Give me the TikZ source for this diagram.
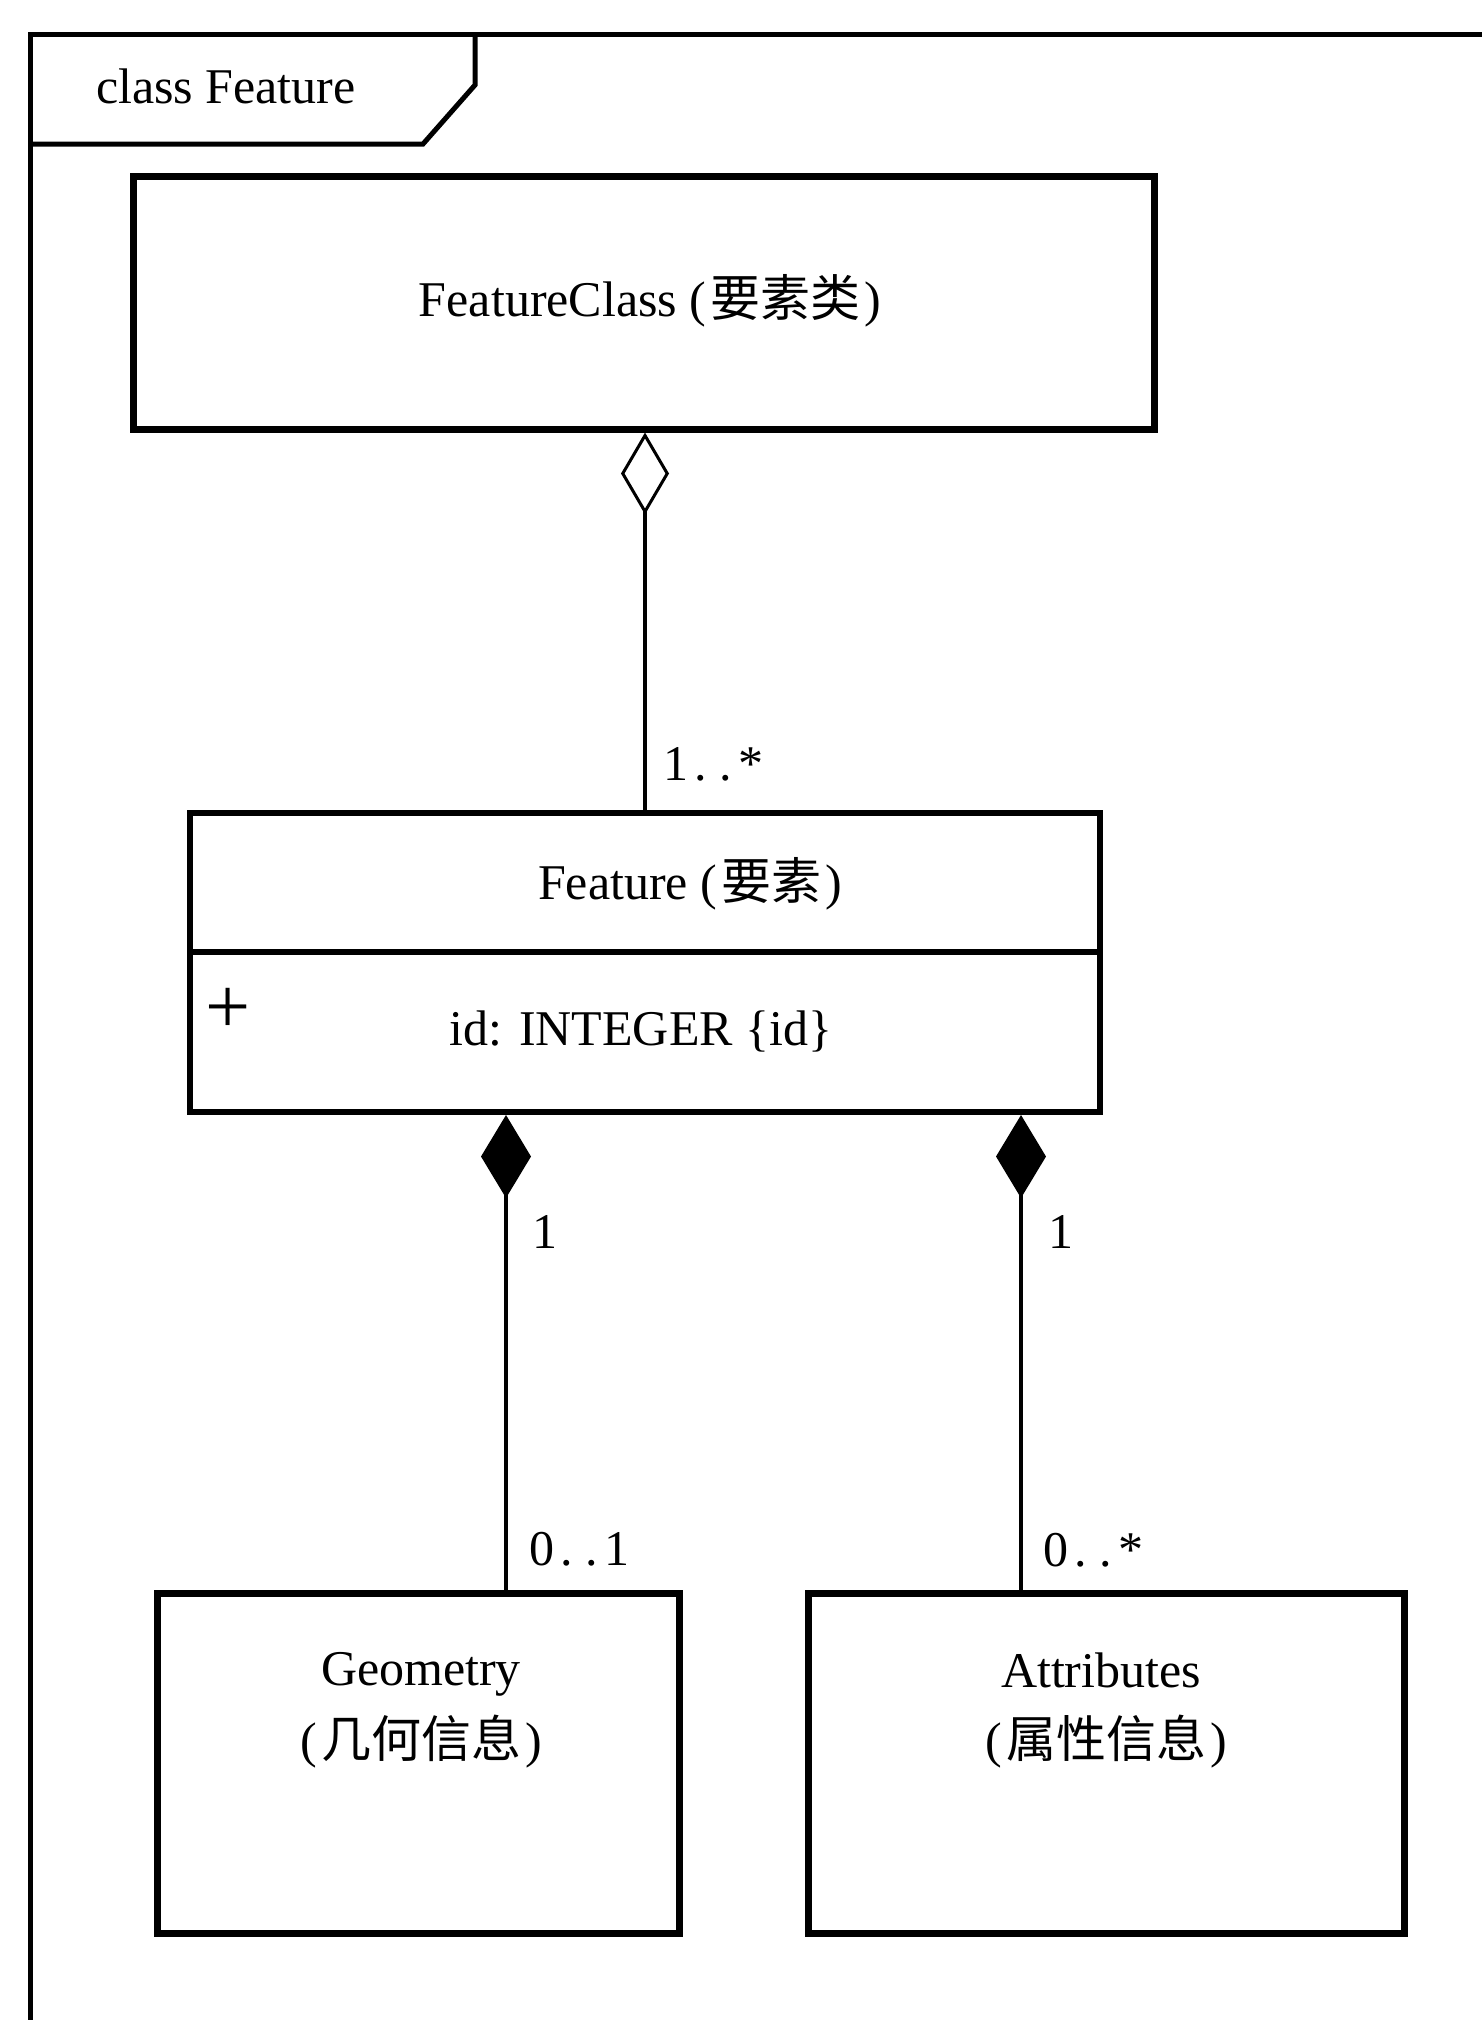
\documentclass[tikz,border=0pt]{standalone}
\usepackage{fontspec}
\setmainfont{Liberation Serif}
\newfontfamily\cjkfont{Noto Sans CJK SC}
\usetikzlibrary{arrows.meta}

% multiplicity dots set on a half-em grid
\newcommand\mdot{\makebox[0.5em]{.}}
% Chinese gloss in round brackets
\newcommand\gloss[1]{(\kern2pt{\cjkfont #1}\kern2pt)}

\begin{document}
\begin{tikzpicture}[x=0.5pt,y=-0.5pt,
  txt/.style={font=\fontsize{25}{30}\selectfont, inner sep=0pt, outer sep=0pt},
  frameline/.style={line width=2.5pt, line join=miter},
  umlbox/.style={draw, rectangle, line width=3.5pt, inner sep=0pt},
  headbox/.style={draw, rectangle, line width=3pt, inner sep=0pt},
  conn/.style={line width=1.75pt},
  aggregation/.style={conn, -{Diamond[open, length=41pt, width=24pt, line width=1.5pt]}},
  composition/.style={conn, -{Diamond[length=41.5pt, width=25pt]}}
]
\useasboundingbox (0,0) rectangle (1482,2020);
\fill[white] (0,0) rectangle (1482,2020);

% outer diagram frame and its name tab
\draw[frameline] (30,2020) -- (30,34) -- (1482,34);
\draw[frameline] (30,144) -- (423,144) -- (475,85) -- (475,34);
\node[txt, anchor=base west] (title) at (96,103) {class Feature};

% classes
\node[umlbox, minimum width=510.5pt, minimum height=126.25pt] (featureclass) at (644,302.75) {};
\node[txt] (fcname) at (650,301) {FeatureClass \gloss{要素类}};

\node[headbox, minimum width=455pt, minimum height=69.5pt] (feature) at (645,882.5) {};
\node[txt] (fname) at (690,884) {Feature \gloss{要素}};
\node[headbox, minimum width=455pt, minimum height=80pt] (featurebody) at (645,1032) {};
\node[txt] (attr) at (641,1031) {id: INTEGER \{id\}};
\node[inner sep=0pt, font=\fontsize{40}{40}\selectfont] (vis) at (228,1011) {+};

\node[umlbox, minimum width=261pt, minimum height=170pt] (geometry) at (418,1763) {};
\node[txt, anchor=base] (geomname) at (421,1685) {Geometry};
\node[txt, anchor=base] (geomcn) at (421,1757) {\gloss{几何信息}};

\node[umlbox, minimum width=298pt, minimum height=170pt] (attributes) at (1106,1763) {};
\node[txt, anchor=base] (attrname) at (1101,1687) {Attributes};
\node[txt, anchor=base] (attrcn) at (1106,1757) {\gloss{属性信息}};

% connector columns
\coordinate (gx) at (506,0);
\coordinate (ax) at (1021,0);

% associations
\draw[aggregation] (feature.north) -- (featureclass.south -| feature.north);
\draw[composition] (geometry.north -| gx) -- (featurebody.south -| gx);
\draw[composition] (attributes.north -| ax) -- (featurebody.south -| ax);

% multiplicities
\node[txt, anchor=base west] (m1) at (663,780) {1\mdot\mdot*};
\node[txt] (m2) at (545,1232) {1};
\node[txt] (m3) at (1061,1232) {1};
\node[txt, anchor=base west] (m4) at (529,1565) {0\mdot\mdot1};
\node[txt, anchor=base west] (m5) at (1043,1566) {0\mdot\mdot*};
\end{tikzpicture}
\end{document}
